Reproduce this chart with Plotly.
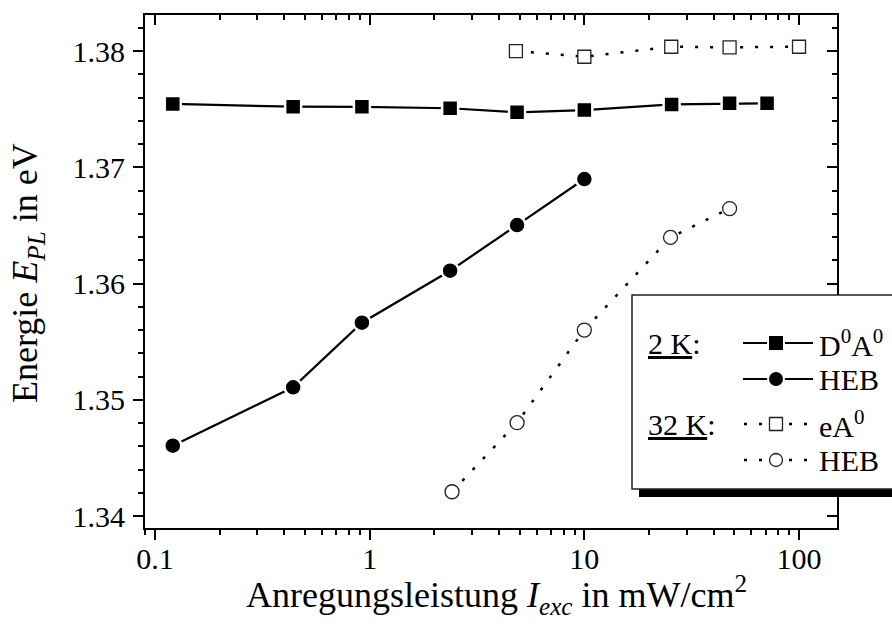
import plotly.graph_objects as go

# ---------------- data ----------------
d0a0_x = [0.121, 0.44, 0.92, 2.37, 4.86, 10.0, 25.5, 47.5, 71.0]
d0a0_y = [1.37545, 1.37521, 1.37520, 1.37508, 1.37473, 1.37492, 1.37541, 1.37550, 1.37550]

heb2_x = [0.121, 0.44, 0.92, 2.37, 4.86, 10.0]
heb2_y = [1.34605, 1.35107, 1.35663, 1.36110, 1.36503, 1.36899]

ea0_x = [4.8, 10.0, 25.4, 47.5, 100.0]
ea0_y = [1.38000, 1.37951, 1.38037, 1.38032, 1.38037]

heb32_x = [2.42, 4.86, 10.0, 25.2, 47.5]
heb32_y = [1.34209, 1.34803, 1.35600, 1.36397, 1.36645]

legend_labels = ["D<sup>0</sup>A<sup>0</sup>", "HEB", "eA<sup>0</sup>", "HEB"]
legend_groups = ["<u>2 K</u>:", "<u>32 K</u>:"]

x_title = "Anregungsleistung <i>I</i><sub><i>exc</i></sub> in mW/cm<sup>2</sup>"
y_title = "Energie <i>E</i><sub><i>PL</i></sub> in eV"

# ---------------- layout geometry ----------------
W, H = 892, 637
L, R, T, B = 145, 55, 15, 109
PW, PH = W - L - R, H - T - B
FONT = '"Liberation Serif", "Times New Roman", Times, serif'
DOT = "3px,12px"


def px(xp):
    return (xp - L) / PW


def py(yp):
    return (H - B - yp) / PH


fig = go.Figure()

# 2 K D0A0
fig.add_trace(go.Scatter(x=d0a0_x, y=d0a0_y, mode="lines+markers",
                         line=dict(color="black", width=2.2),
                         marker=dict(symbol="square", size=16, color="black",
                                     line=dict(color="white", width=2.5)),
                         showlegend=False))
# 2 K HEB
fig.add_trace(go.Scatter(x=heb2_x, y=heb2_y, mode="lines+markers",
                         line=dict(color="black", width=2.2),
                         marker=dict(symbol="circle", size=17, color="black",
                                     line=dict(color="white", width=2.5)),
                         showlegend=False))
# 32 K eA0
fig.add_trace(go.Scatter(x=ea0_x, y=ea0_y, mode="lines+markers",
                         line=dict(color="black", width=2.5, dash=DOT),
                         marker=dict(symbol="square", size=13, color="white",
                                     line=dict(color="#222", width=1.3)),
                         showlegend=False))
# 32 K HEB
fig.add_trace(go.Scatter(x=heb32_x, y=heb32_y, mode="lines+markers",
                         line=dict(color="black", width=2.5, dash=DOT),
                         marker=dict(symbol="circle", size=14, color="white",
                                     line=dict(color="#222", width=1.3)),
                         showlegend=False))
# empty trace to activate the mirrored (inward tick) axes
fig.add_trace(go.Scatter(x=[], y=[], xaxis="x2", yaxis="y2", showlegend=False,
                         hoverinfo="skip"))

xr = [-1.0466, 2.177]
yr = [1.33897, 1.38310]
tickfont = dict(family=FONT, size=30, color="black")

fig.update_layout(
    width=W, height=H,
    margin=dict(l=L, r=R, t=T, b=B, pad=0),
    paper_bgcolor="white", plot_bgcolor="white",
    font=dict(family=FONT, color="black"),
    xaxis=dict(type="log", range=xr, dtick=1, showgrid=False, zeroline=False,
               showline=True, linecolor="black", linewidth=2, mirror=True,
               ticks="outside", ticklen=10, tickwidth=2, tickcolor="black",
               minor=dict(dtick="D1", ticks="outside", ticklen=5, tickwidth=2,
                          tickcolor="black", showgrid=False),
               tickfont=tickfont, ticklabelstandoff=-7),
    yaxis=dict(range=yr, dtick=0.01, tick0=1.34, tickformat=".2f",
               showgrid=False, zeroline=False,
               showline=True, linecolor="black", linewidth=2, mirror=True,
               ticks="outside", ticklen=10, tickwidth=2, tickcolor="black",
               minor=dict(dtick=0.002, ticks="outside", ticklen=5, tickwidth=2,
                          tickcolor="black", showgrid=False),
               tickfont=tickfont, ticklabelstandoff=2),
    xaxis2=dict(type="log", range=xr, dtick=1, overlaying="x", side="top",
                anchor="y", showgrid=False, zeroline=False, showline=False,
                ticks="inside", ticklen=10, tickwidth=2, tickcolor="black",
                minor=dict(dtick="D1", ticks="inside", ticklen=5, tickwidth=2,
                           tickcolor="black", showgrid=False),
                showticklabels=False),
    yaxis2=dict(range=yr, dtick=0.01, tick0=1.34, overlaying="y", side="right",
                anchor="x", showgrid=False, zeroline=False, showline=False,
                ticks="inside", ticklen=10, tickwidth=2, tickcolor="black",
                minor=dict(dtick=0.002, ticks="inside", ticklen=5, tickwidth=2,
                           tickcolor="black", showgrid=False),
                showticklabels=False),
)

# axis titles
fig.add_annotation(text=x_title, xref="paper", yref="paper",
                   x=px(496), y=py(595), xanchor="center", yanchor="middle",
                   showarrow=False, font=dict(family=FONT, size=36, color="black"))
fig.add_annotation(text=y_title, xref="paper", yref="paper",
                   x=px(27), y=py(273), xanchor="center", yanchor="middle",
                   textangle=-90, showarrow=False,
                   font=dict(family=FONT, size=36, color="black"))

# ---------------- legend box ----------------
shapes = []
shapes.append(dict(type="rect", xref="paper", yref="paper", layer="above",
                   x0=px(639), x1=px(905), y0=py(497), y1=py(489),
                   fillcolor="black", line=dict(width=0)))
shapes.append(dict(type="rect", xref="paper", yref="paper", layer="above",
                   x0=px(632), x1=px(905), y0=py(489), y1=py(295),
                   fillcolor="white", line=dict(color="#222", width=1.5)))

rows = [343, 379, 424, 460]
styles = [("square", True), ("circle", True), ("square", False), ("circle", False)]
for ry, (sym, filled), lab in zip(rows, styles, legend_labels):
    if filled:
        shapes.append(dict(type="line", xref="paper", yref="paper", layer="above",
                           x0=px(743), x1=px(813), y0=py(ry), y1=py(ry),
                           line=dict(color="black", width=2.2)))
    else:
        shapes.append(dict(type="line", xref="paper", yref="paper", layer="above",
                           x0=px(744), x1=px(812), y0=py(ry), y1=py(ry),
                           line=dict(color="black", width=2.5, dash=DOT)))
    half = 7 if filled else 6.5
    shapes.append(dict(type="rect" if sym == "square" else "circle",
                       xref="paper", yref="paper", layer="above",
                       xsizemode="pixel", ysizemode="pixel",
                       xanchor=px(776), yanchor=py(ry),
                       x0=-(half + 2), x1=half + 2, y0=-(half + 2), y1=half + 2,
                       fillcolor="white", line=dict(width=0)))
    shapes.append(dict(type="rect" if sym == "square" else "circle",
                       xref="paper", yref="paper", layer="above",
                       xsizemode="pixel", ysizemode="pixel",
                       xanchor=px(776), yanchor=py(ry),
                       x0=-half, x1=half, y0=-half, y1=half,
                       fillcolor="black" if filled else "white",
                       line=dict(color="black" if filled else "#222",
                                 width=0 if filled else 1.3)))
    fig.add_annotation(text=lab, xref="paper", yref="paper",
                       x=px(817), y=py(ry), xanchor="left", yanchor="middle",
                       showarrow=False, font=dict(family=FONT, size=30, color="black"))

for ry, g in zip([rows[0], rows[2]], legend_groups):
    fig.add_annotation(text=g, xref="paper", yref="paper",
                       x=px(646), y=py(ry), xanchor="left", yanchor="middle",
                       showarrow=False, font=dict(family=FONT, size=30, color="black"))

fig.update_layout(shapes=shapes)

fig.write_html("out.html", config={"displayModeBar": False},
               post_script="document.body.style.margin='0';")
